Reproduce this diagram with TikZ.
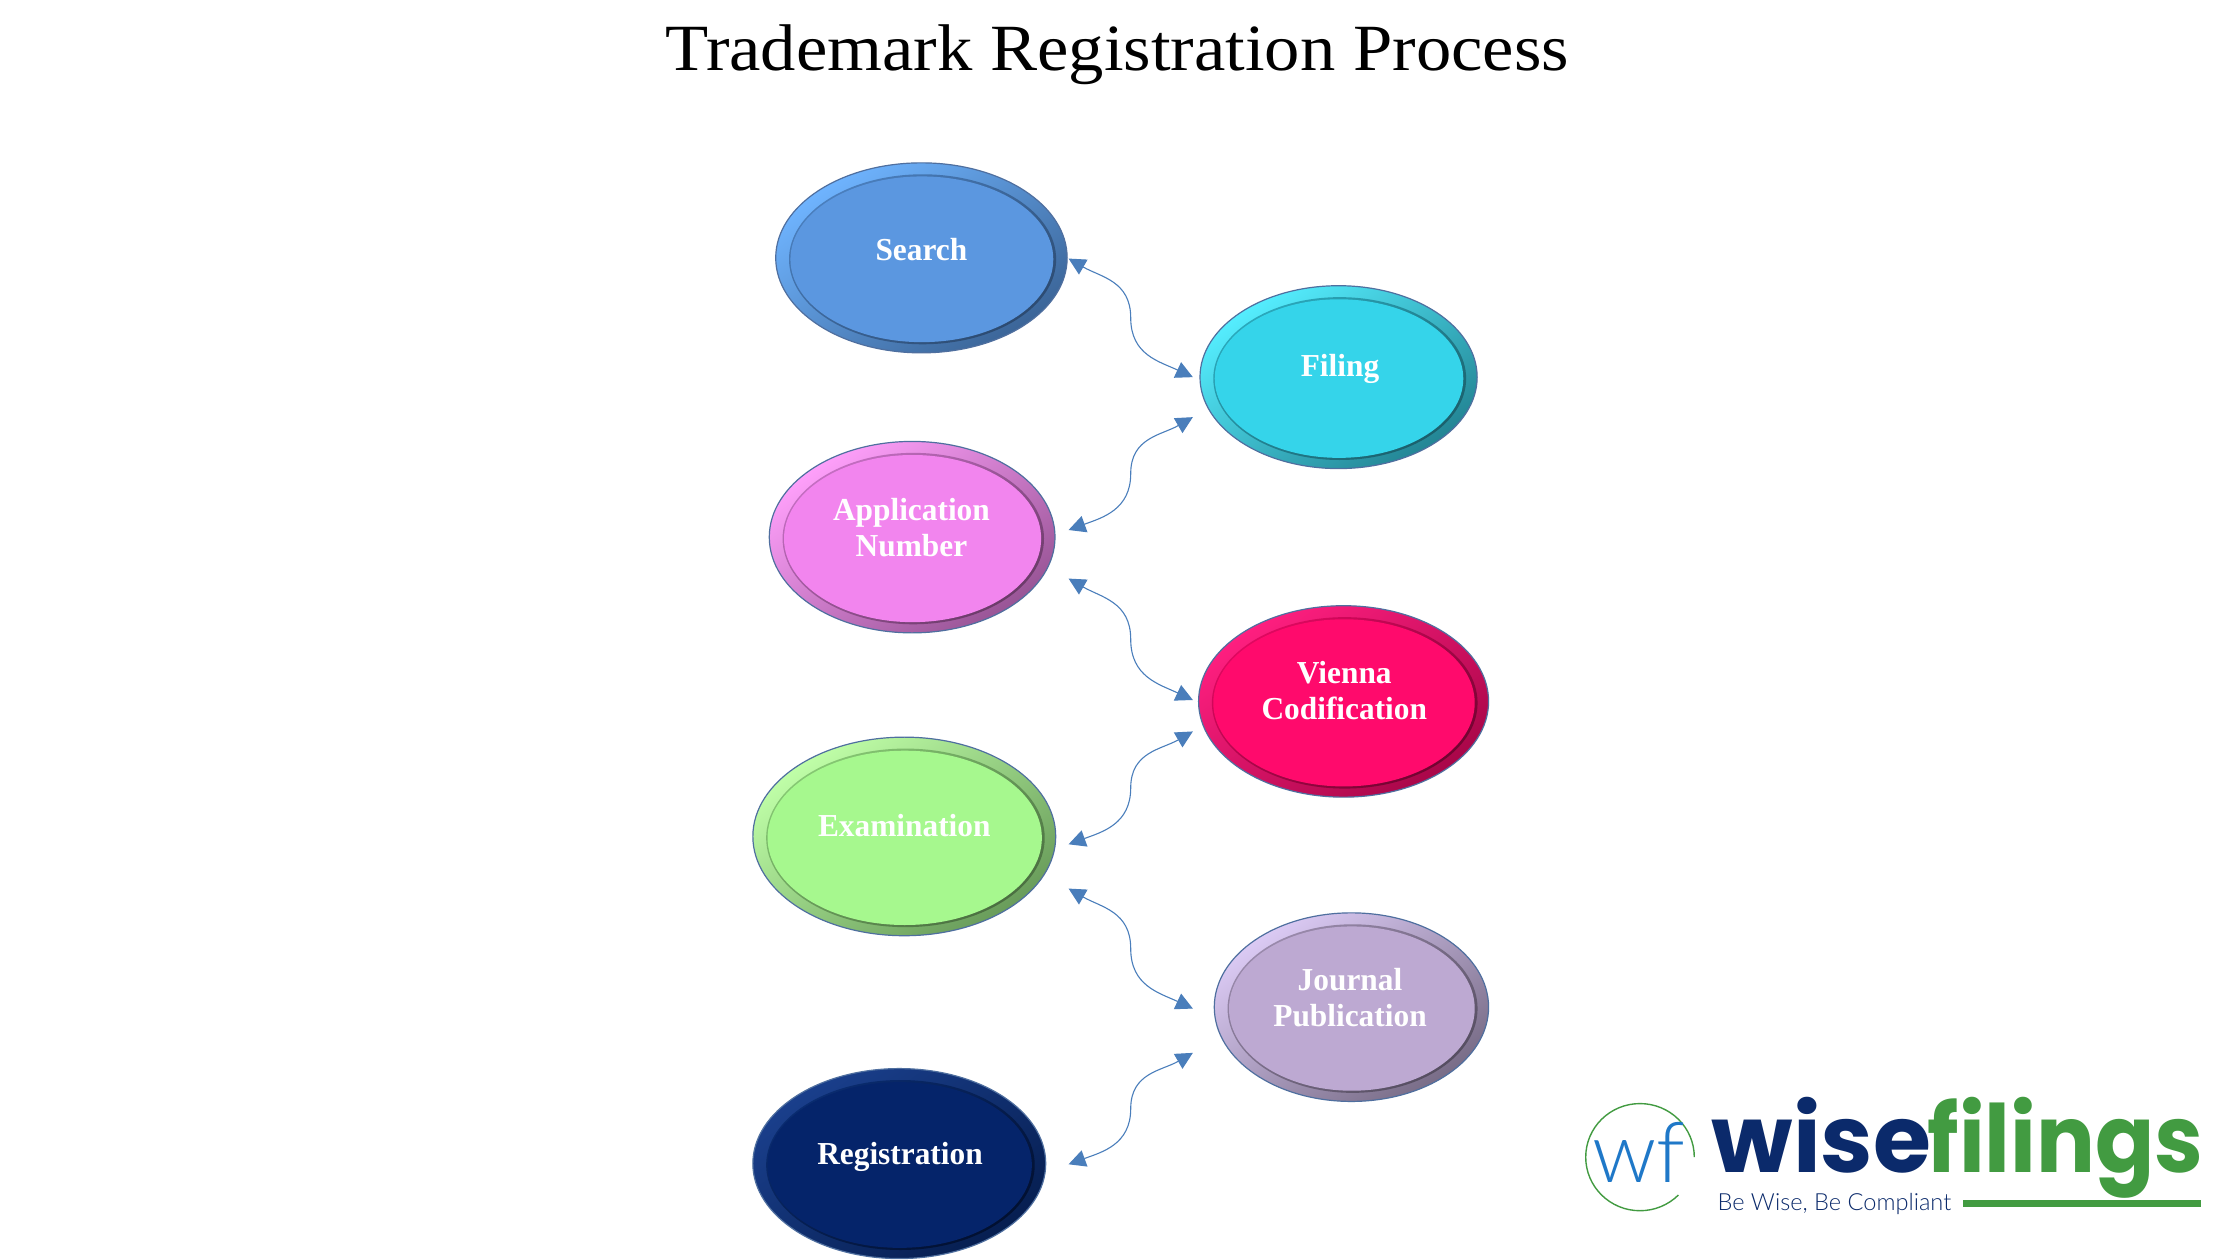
\documentclass[tikz,border=0pt]{standalone}
\usepackage{fontspec}
\usetikzlibrary{shapes.geometric,arrows.meta,calc}
\setmainfont{Liberation Serif}
\newfontfamily\titlefont[FakeStretch=1.07]{Liberation Serif}
\newfontfamily\labelfont[FakeStretch=0.98]{Liberation Serif}
\newfontfamily\wisefont[FakeStretch=1.0]{Poppins}
\newfontfamily\filingsfont[FakeStretch=0.93,Ligatures=NoCommon]{Poppins}
\newfontfamily\markfont{Lato Light}
\newfontfamily\tagfont{Lato Light}
\definecolor{linkblue}{HTML}{4A7EBB}
\definecolor{rimline}{HTML}{4F6F9F}
\definecolor{navy}{HTML}{0B2A6B}
\definecolor{leaf}{HTML}{429B41}
\definecolor{markblue}{HTML}{1F78C8}
% face, highlight, rim, deep shadow
\definecolor{sF}{HTML}{5B97E0}\definecolor{sL}{HTML}{6FB4FF}\definecolor{sR}{HTML}{4A7FBE}\definecolor{sD}{HTML}{2C4A70}
\definecolor{fF}{HTML}{35D4EA}\definecolor{fL}{HTML}{55EEFF}\definecolor{fR}{HTML}{2AA9BC}\definecolor{fD}{HTML}{1B5F6B}
\definecolor{aF}{HTML}{F285EE}\definecolor{aL}{HTML}{FFA0FB}\definecolor{aR}{HTML}{C56EC2}\definecolor{aD}{HTML}{6A3A68}
\definecolor{vF}{HTML}{FF0A6C}\definecolor{vL}{HTML}{FF1F80}\definecolor{vR}{HTML}{E00860}\definecolor{vD}{HTML}{700430}
\definecolor{eF}{HTML}{A6F88E}\definecolor{eL}{HTML}{C0FFA8}\definecolor{eR}{HTML}{86C873}\definecolor{eD}{HTML}{4A6E40}
\definecolor{jF}{HTML}{BDA9D2}\definecolor{jL}{HTML}{DCCBF5}\definecolor{jR}{HTML}{9A8AAC}\definecolor{jD}{HTML}{554D60}
\definecolor{rF}{HTML}{05246A}\definecolor{rL}{HTML}{1A3F8C}\definecolor{rR}{HTML}{0A2C70}\definecolor{rD}{HTML}{021030}
\tikzset{
  rimstyle/.style={ellipse,inner sep=0pt,draw=rimline,line width=0.6pt},
  bevelstyle/.style={ellipse,inner sep=0pt},
  facestyle/.style={ellipse,inner sep=0pt},
  stonetext/.style={text=white,align=center,font=\labelfont\bfseries\fontsize{16}{18}\selectfont,inner sep=0pt},
  conn/.style={draw=linkblue,line width=0.55pt,{Triangle[length=8.5pt,width=8.5pt]}-{Triangle[length=8.5pt,width=8.5pt]}},
  logotext/.style={anchor=base west,inner sep=0pt}
}
% name cx cy rx ry colourprefix
\newcommand{\stone}[6]{%
  \node[rimstyle,minimum width=2*#4*0.714286pt,minimum height=2*#5*0.714286pt,
        top color=#6L,middle color=#6R,bottom color=#6D!50!#6R,shading angle=35] (#1) at (#2,#3) {};
  \node[bevelstyle,minimum width=2*(#4-8.5)*0.714286pt,minimum height=2*(#5-7)*0.714286pt,
        top color=#6R,middle color=#6R!70!#6D,bottom color=#6D,shading angle=35] (#1-bevel) at (#2+0.8,#3+1) {};
  \node[facestyle,fill=#6F,minimum width=2*(#4-10)*0.714286pt,minimum height=2*(#5-8.5)*0.714286pt] (#1-face) at (#2+0.3,#3+1) {};
}
\newcommand{\sdown}[2]{\draw[conn] (#1) to[out=-30,in=90,looseness=1.1] ($(#1)!.5!(#2)$) to[out=-90,in=155,looseness=1.1] (#2);}
\newcommand{\srise}[2]{\draw[conn] (#1) to[out=20,in=-90,looseness=1.1] ($(#1)!.5!(#2)$) to[out=90,in=-150,looseness=1.1] (#2);}
\begin{document}
\begin{tikzpicture}[x=0.714286pt,y=-0.714286pt]
\useasboundingbox (0,0) rectangle (1568,882);
\fill[white] (0,0) rectangle (1568,882);
\node[inner sep=0pt,font=\titlefont\fontsize{33}{36}\selectfont] (title) at (782,38) {Trademark Registration Process};

\stone{search}{645}{180.5}{102}{66.5}{s}
\stone{filing}{937}{264}{97}{64}{f}
\stone{appno}{638.5}{376}{100}{67}{a}
\stone{vienna}{940.5}{491}{101.5}{67}{v}
\stone{exam}{633}{585.5}{106}{69.5}{e}
\stone{journal}{946}{705}{96}{66}{j}
\stone{regist}{629.5}{814.5}{102.5}{66.5}{r}

\node[stonetext] (search-t) at (645,175) {Search};
\node[stonetext] (filing-t) at (938,258) {Filing};
\node[stonetext] (appno-t) at (638,369.5) {Application\\Number};
\node[stonetext] (vienna-t) at (941,483.5) {Vienna\\Codification};
\node[stonetext] (exam-t) at (633,578) {Examination};
\node[stonetext] (journal-t) at (945,698.5) {Journal\\Publication};
\node[stonetext] (regist-t) at (630,810) {Registration};

% connector ends, placed from the ellipses they belong to
\coordinate (c1a) at ($(search.center)+(103,0.5)$);
\coordinate (c1b) at ($(filing.center)+(-102,0)$);
\coordinate (c2a) at ($(appno.center)+(109.5,-5)$);
\coordinate (c2b) at ($(filing.center)+(-102,28)$);
\coordinate (c3a) at ($(appno.center)+(109.5,29)$);
\coordinate (c3b) at ($(vienna.center)+(-105.5,-1)$);
\coordinate (c4a) at ($(exam.center)+(115,5.5)$);
\coordinate (c4b) at ($(vienna.center)+(-105.5,21)$);
\coordinate (c5a) at ($(exam.center)+(115,36.5)$);
\coordinate (c5b) at ($(journal.center)+(-111,1)$);
\coordinate (c6a) at ($(regist.center)+(118.5,0.5)$);
\coordinate (c6b) at ($(journal.center)+(-111,32)$);
\sdown{c1a}{c1b}
\srise{c2a}{c2b}
\sdown{c3a}{c3b}
\srise{c4a}{c4b}
\sdown{c5a}{c5b}
\srise{c6a}{c6b}

% logo
\draw[leaf,line width=0.7pt] (1186,810) arc[start angle=0,end angle=-315,x radius=38,y radius=37.5];
\node[inner sep=0pt,text=markblue,font=\markfont\fontsize{42}{42}\selectfont] (mark) at (1147,807) {wf};
\node[logotext,text=navy,font=\wisefont\bfseries\fontsize{47}{47}\selectfont] (wise) at (1198,821) {wise};
\node[logotext,text=leaf,font=\filingsfont\bfseries\fontsize{47}{47}\selectfont] (filings) at (1349,821) {filings};
\node[anchor=west,inner sep=0pt,text=navy,font=\tagfont\fontsize{11.8}{13}\selectfont] (tag) at (1202,842.5) {Be Wise, Be Compliant};
\fill[leaf] (1374,840) rectangle (1541,845);
\end{tikzpicture}
\end{document}
